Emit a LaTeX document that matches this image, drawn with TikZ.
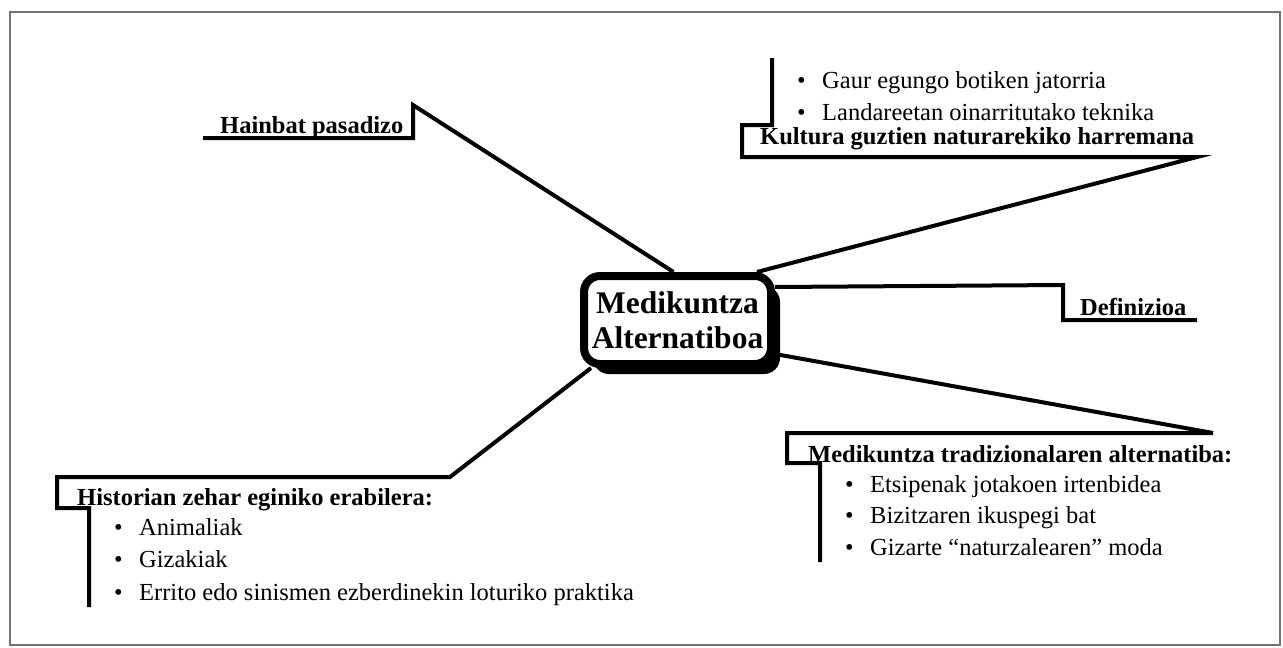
\documentclass[tikz,border=0pt]{standalone}
\usepackage{fontspec}
\setmainfont{Liberation Serif}
\usetikzlibrary{shadows}

\tikzset{
  branch/.style={line width=4pt, line join=miter},
  topic/.style={anchor=base west, inner sep=0, font=\fontsize{24.5}{29}\selectfont\bfseries},
  point/.style={anchor=base west, inner sep=0, font=\fontsize{24.5}{29}\selectfont},
}
\newcommand{\bul}{\makebox[25pt][l]{\textbullet}}

\begin{document}
\begin{tikzpicture}[x=1pt,y=-1pt]
  \useasboundingbox (0,0) rectangle (1283,648);
  % frame
  \draw[black!55, line width=1.3pt] (10,12) rectangle (1280,645);

  % centre
  \node[draw, fill=white, line width=8pt, rounded corners=16pt,
        minimum width=187pt, minimum height=88pt, inner sep=0, align=center,
        drop shadow={shadow xshift=9pt, shadow yshift=-10pt, fill=black, opacity=1},
        font=\fontsize{31.5}{35}\selectfont\bfseries]
        (core) at (677.5,320) {Medikuntza\\Alternatiboa};

  % corners of the branches
  \coordinate (hbknee) at (413,105);
  \coordinate (hbend)  at (203,138);
  \coordinate (kuknee) at (1197,157);
  \coordinate (kustep) at (742,125);
  \coordinate (kutop)  at (772,58);
  \coordinate (deknee) at (1063,285);
  \coordinate (deend)  at (1197,320);
  \coordinate (trknee) at (1213,433);
  \coordinate (trstep) at (787,463);
  \coordinate (trfoot) at (820,562);
  \coordinate (hiknee) at (450,477);
  \coordinate (histep) at (57,508);
  \coordinate (hifoot) at (89,607);

  % branches
  \draw[branch] ([xshift=-4pt]core.north) -- (hbknee) |- (hbend);
  \draw[branch] ([xshift=-18pt]core.north east) -- (kuknee) -| (kustep) -| (kutop);
  \draw[branch] ([yshift=-15pt]core.north east) -- (deknee) |- (deend);
  \draw[branch] ([yshift=14pt]core.south east) -- (trknee) -| (trstep) -| (trfoot);
  \draw[branch] ([xshift=11pt]core.south west) -- (hiknee) -| (histep) -| (hifoot);

  % titles
  \node[topic] (hainbat)    at (220,133)  {Hainbat pasadizo};
  \node[topic] (kultura)    at (760,144)  {Kultura guztien naturarekiko harremana};
  \node[topic] (definizioa) at (1080,315) {Definizioa};
  \node[topic] (tradizio)   at (808,462)  {Medikuntza tradizionalaren alternatiba:};
  \node[topic] (historia)   at (77,505)   {Historian zehar eginiko erabilera:};

  % bullets
  \foreach \txt [count=\i] in {Gaur egungo botiken jatorria, Landareetan oinarritutako teknika}
    \node[point] (kult\i) at (797,56+32*\i) {\bul\txt};
  \foreach \txt [count=\i] in {Etsipenak jotakoen irtenbidea, Bizitzaren ikuspegi bat, Gizarte “naturzalearen” moda}
    \node[point] (trad\i) at (845,460.5+31.5*\i) {\bul\txt};
  \foreach \txt [count=\i] in {Animaliak, Gizakiak, Errito edo sinismen ezberdinekin loturiko praktika}
    \node[point] (hist\i) at (114,502.5+32.5*\i) {\bul\txt};
\end{tikzpicture}
\end{document}
